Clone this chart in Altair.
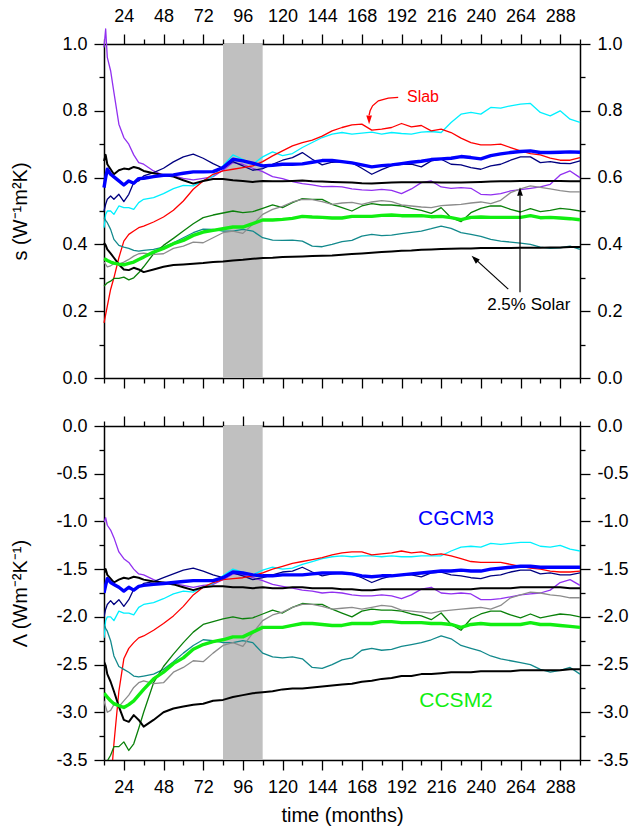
import altair as alt
import pandas as pd

FONT = "Liberation Sans"

months = [12, 13, 14, 16, 18, 21, 24, 27, 30, 33, 36,
          42, 48, 54, 60, 66, 72, 78, 84, 90, 96,
          102, 108, 114, 120, 126, 132, 138, 144, 150, 156,
          162, 168, 174, 180, 186, 192, 198, 204, 210, 216,
          222, 228, 234, 240, 246, 252, 258, 264, 270, 276,
          282, 288, 294, 300]

# ---------------- top panel: s (W^-1 m^2 K) ----------------
s_purple = [0.99, 1.045, 0.96, 0.92, 0.855, 0.76, 0.72, 0.70, 0.668, 0.645, 0.64,
            0.62, 0.607, 0.605, 0.598, 0.593, 0.598, 0.603, 0.622, 0.645, 0.64,
            0.628, 0.618, 0.603, 0.597, 0.588, 0.582, 0.578, 0.573, 0.574, 0.572,
            0.566, 0.563, 0.562, 0.565, 0.562, 0.552, 0.566, 0.585, 0.59, 0.572,
            0.568, 0.57, 0.568, 0.55, 0.548, 0.552, 0.56, 0.564, 0.568, 0.572,
            0.58, 0.608, 0.62, 0.60]
s_navy = [0.50, 0.52, 0.535, 0.545, 0.535, 0.55, 0.528, 0.55, 0.585, 0.59, 0.605,
          0.615, 0.628, 0.647, 0.662, 0.67, 0.658, 0.642, 0.628, 0.648, 0.635,
          0.622, 0.627, 0.64, 0.652, 0.66, 0.675, 0.655, 0.638, 0.646, 0.648,
          0.645, 0.628, 0.61, 0.624, 0.636, 0.64, 0.64, 0.632, 0.65, 0.655,
          0.64, 0.638, 0.63, 0.625, 0.635, 0.64, 0.652, 0.662, 0.662, 0.645,
          0.648, 0.643, 0.642, 0.65]
s_cyan = [0.45, 0.49, 0.50, 0.50, 0.49, 0.515, 0.51, 0.51, 0.505, 0.525, 0.535,
          0.54, 0.552, 0.567, 0.577, 0.575, 0.59, 0.605, 0.635, 0.668, 0.655,
          0.64, 0.662, 0.677, 0.666, 0.672, 0.69, 0.705, 0.72, 0.73, 0.735,
          0.73, 0.733, 0.736, 0.73, 0.735, 0.732, 0.73, 0.736, 0.738, 0.735,
          0.765, 0.79, 0.795, 0.79, 0.81, 0.808, 0.815, 0.82, 0.822, 0.795,
          0.785, 0.80, 0.775, 0.765]
s_red = [0.165, 0.19, 0.215, 0.265, 0.30, 0.36, 0.41, 0.43, 0.44, 0.45, 0.455,
         0.467, 0.482, 0.502, 0.53, 0.565, 0.59, 0.61, 0.62, 0.625, 0.63,
         0.635, 0.648, 0.665, 0.68, 0.695, 0.705, 0.712, 0.724, 0.74, 0.75,
         0.758, 0.76, 0.742, 0.745, 0.75, 0.762, 0.752, 0.756, 0.74, 0.745,
         0.735, 0.718, 0.705, 0.698, 0.698, 0.70, 0.69, 0.68, 0.672, 0.668,
         0.658, 0.652, 0.652, 0.66]
s_teal = [0.48, 0.472, 0.465, 0.445, 0.415, 0.397, 0.392, 0.388, 0.382, 0.38, 0.382,
          0.385, 0.392, 0.405, 0.42, 0.435, 0.446, 0.445, 0.44, 0.44, 0.445,
          0.44, 0.42, 0.413, 0.412, 0.413, 0.41, 0.395, 0.393, 0.40, 0.408,
          0.412, 0.425, 0.43, 0.426, 0.428, 0.432, 0.436, 0.44, 0.447, 0.455,
          0.448, 0.435, 0.43, 0.424, 0.415, 0.41, 0.407, 0.404, 0.40, 0.392,
          0.388, 0.39, 0.395, 0.385]
s_green = [0.275, 0.28, 0.285, 0.29, 0.298, 0.298, 0.302, 0.294, 0.30, 0.315, 0.333,
           0.372, 0.397, 0.418, 0.44, 0.462, 0.48, 0.488, 0.494, 0.50, 0.495,
           0.498, 0.508, 0.518, 0.51, 0.525, 0.537, 0.535, 0.535, 0.52, 0.51,
           0.50, 0.515, 0.522, 0.518, 0.518, 0.515, 0.508, 0.502, 0.493, 0.51,
           0.48, 0.468, 0.495, 0.508, 0.515, 0.515, 0.505, 0.497, 0.507, 0.498,
           0.502, 0.508, 0.505, 0.50]
s_gray = [0.347, 0.34, 0.333, 0.336, 0.342, 0.34, 0.347, 0.355, 0.365, 0.372, 0.374,
          0.37, 0.372, 0.388, 0.395, 0.407, 0.405, 0.42, 0.435, 0.44, 0.433,
          0.46, 0.49, 0.505, 0.514, 0.527, 0.535, 0.534, 0.528, 0.52, 0.524,
          0.526, 0.52, 0.527, 0.531, 0.528, 0.518, 0.515, 0.512, 0.51, 0.516,
          0.518, 0.52, 0.524, 0.527, 0.522, 0.532, 0.555, 0.566, 0.575, 0.571,
          0.566, 0.561, 0.557, 0.557]
s_black_lo = [0.405, 0.398, 0.385, 0.373, 0.36, 0.34, 0.325, 0.323, 0.33, 0.325, 0.317,
              0.325, 0.333, 0.338, 0.34, 0.342, 0.344, 0.347, 0.349, 0.352, 0.354,
              0.357, 0.359, 0.36, 0.362, 0.363, 0.364, 0.365, 0.366, 0.367, 0.369,
              0.371, 0.373, 0.375, 0.377, 0.379, 0.381, 0.382, 0.384, 0.385, 0.386,
              0.387, 0.388, 0.388, 0.389, 0.389, 0.389, 0.389, 0.39, 0.39, 0.39,
              0.391, 0.391, 0.392, 0.392]
s_black_hi = [0.65, 0.668, 0.64, 0.625, 0.61, 0.622, 0.627, 0.625, 0.632, 0.628, 0.62,
              0.613, 0.608, 0.603, 0.592, 0.582, 0.59, 0.596, 0.596, 0.592, 0.59,
              0.587, 0.59, 0.589, 0.589, 0.59, 0.591, 0.589, 0.588, 0.587, 0.586,
              0.585, 0.583, 0.582, 0.584, 0.585, 0.586, 0.586, 0.586, 0.586, 0.585,
              0.585, 0.585, 0.586, 0.587, 0.588, 0.589, 0.589, 0.59, 0.59, 0.59,
              0.59, 0.59, 0.589, 0.589]
s_lime = [0.357, 0.355, 0.352, 0.347, 0.344, 0.341, 0.339, 0.343, 0.347, 0.355, 0.362,
          0.377, 0.388, 0.402, 0.412, 0.427, 0.437, 0.442, 0.447, 0.452, 0.452,
          0.462, 0.473, 0.473, 0.475, 0.478, 0.484, 0.482, 0.481, 0.479, 0.479,
          0.484, 0.484, 0.484, 0.487, 0.488, 0.486, 0.486, 0.486, 0.483, 0.484,
          0.48, 0.474, 0.481, 0.482, 0.481, 0.481, 0.481, 0.481, 0.486, 0.48,
          0.481, 0.479, 0.477, 0.474]
s_blue = [0.57, 0.60, 0.625, 0.61, 0.602, 0.59, 0.578, 0.59, 0.583, 0.597, 0.598,
          0.603, 0.607, 0.608, 0.613, 0.617, 0.617, 0.618, 0.63, 0.655, 0.65,
          0.643, 0.635, 0.637, 0.64, 0.64, 0.641, 0.646, 0.651, 0.651, 0.648,
          0.644, 0.638, 0.632, 0.636, 0.638, 0.642, 0.646, 0.649, 0.654, 0.656,
          0.658, 0.663, 0.66, 0.656, 0.666, 0.671, 0.675, 0.678, 0.68, 0.675,
          0.675, 0.676, 0.677, 0.676]

# ---------------- bottom panel: Lambda (W m^-2 K^-1) ----------------
lam_purple = [-1.01, -0.96, -1.04, -1.09, -1.17, -1.32, -1.39, -1.43, -1.50, -1.55, -1.56,
              -1.61, -1.65, -1.65, -1.67, -1.69, -1.67, -1.66, -1.61, -1.55, -1.56,
              -1.59, -1.62, -1.66, -1.68, -1.70, -1.72, -1.73, -1.75, -1.74, -1.75,
              -1.77, -1.78, -1.78, -1.77, -1.78, -1.81, -1.77, -1.71, -1.69, -1.75,
              -1.76, -1.75, -1.76, -1.82, -1.82, -1.81, -1.79, -1.77, -1.76, -1.75,
              -1.72, -1.64, -1.61, -1.67]
lam_navy = [-2.00, -1.92, -1.87, -1.83, -1.87, -1.82, -1.89, -1.82, -1.71, -1.69, -1.65,
            -1.63, -1.59, -1.55, -1.51, -1.49, -1.52, -1.56, -1.59, -1.54, -1.57,
            -1.61, -1.59, -1.56, -1.53, -1.52, -1.48, -1.53, -1.57, -1.55, -1.54,
            -1.55, -1.59, -1.64, -1.60, -1.57, -1.56, -1.56, -1.58, -1.54, -1.53,
            -1.56, -1.57, -1.59, -1.60, -1.57, -1.56, -1.53, -1.51, -1.51, -1.55,
            -1.54, -1.56, -1.56, -1.54]
lam_cyan = [-2.22, -2.04, -2.00, -2.00, -2.04, -1.94, -1.96, -1.96, -1.98, -1.90, -1.87,
            -1.85, -1.81, -1.76, -1.73, -1.74, -1.69, -1.65, -1.57, -1.50, -1.53,
            -1.56, -1.51, -1.48, -1.50, -1.49, -1.45, -1.42, -1.39, -1.37, -1.36,
            -1.37, -1.36, -1.36, -1.37, -1.36, -1.37, -1.37, -1.36, -1.36, -1.36,
            -1.31, -1.27, -1.26, -1.27, -1.23, -1.24, -1.23, -1.22, -1.22, -1.26,
            -1.27, -1.25, -1.29, -1.31]
lam_red = [-6.06, -5.26, -4.65, -3.77, -3.33, -2.78, -2.44, -2.33, -2.27, -2.22, -2.20,
           -2.14, -2.07, -1.99, -1.89, -1.77, -1.69, -1.64, -1.61, -1.60, -1.59,
           -1.57, -1.54, -1.50, -1.47, -1.44, -1.42, -1.40, -1.38, -1.35, -1.33,
           -1.32, -1.32, -1.35, -1.34, -1.33, -1.31, -1.33, -1.32, -1.35, -1.34,
           -1.36, -1.39, -1.42, -1.43, -1.43, -1.43, -1.45, -1.47, -1.49, -1.50,
           -1.52, -1.53, -1.53, -1.52]
lam_teal = [-2.08, -2.12, -2.15, -2.25, -2.41, -2.52, -2.55, -2.58, -2.62, -2.63, -2.62,
            -2.60, -2.55, -2.47, -2.38, -2.30, -2.24, -2.25, -2.27, -2.27, -2.25,
            -2.27, -2.38, -2.42, -2.43, -2.42, -2.44, -2.53, -2.54, -2.50, -2.45,
            -2.43, -2.35, -2.33, -2.35, -2.34, -2.31, -2.29, -2.27, -2.24, -2.20,
            -2.23, -2.30, -2.33, -2.36, -2.41, -2.44, -2.46, -2.48, -2.50, -2.55,
            -2.58, -2.56, -2.53, -2.60]
lam_green = [-3.64, -3.57, -3.51, -3.45, -3.36, -3.36, -3.31, -3.40, -3.33, -3.17, -3.00,
             -2.69, -2.52, -2.39, -2.27, -2.16, -2.08, -2.05, -2.02, -2.00, -2.02,
             -2.01, -1.97, -1.93, -1.96, -1.90, -1.86, -1.87, -1.87, -1.92, -1.96,
             -2.00, -1.94, -1.92, -1.93, -1.93, -1.94, -1.97, -1.99, -2.03, -1.96,
             -2.08, -2.14, -2.02, -1.97, -1.94, -1.94, -1.98, -2.01, -1.97, -2.01,
             -1.99, -1.97, -1.98, -2.00]
lam_gray = [-2.88, -2.94, -3.00, -2.98, -2.92, -2.94, -2.88, -2.82, -2.74, -2.69, -2.67,
            -2.70, -2.69, -2.58, -2.53, -2.46, -2.47, -2.38, -2.30, -2.27, -2.31,
            -2.17, -2.04, -1.98, -1.95, -1.90, -1.87, -1.87, -1.89, -1.92, -1.91,
            -1.90, -1.92, -1.90, -1.88, -1.89, -1.93, -1.94, -1.95, -1.96, -1.94,
            -1.93, -1.92, -1.91, -1.90, -1.92, -1.88, -1.80, -1.77, -1.74, -1.75,
            -1.77, -1.78, -1.80, -1.80]
lam_black_lo = [-2.47, -2.51, -2.60, -2.68, -2.78, -2.94, -3.08, -3.10, -3.03, -3.08, -3.15,
                -3.08, -3.00, -2.96, -2.94, -2.92, -2.91, -2.88, -2.87, -2.84, -2.82,
                -2.80, -2.79, -2.78, -2.76, -2.75, -2.75, -2.74, -2.73, -2.72, -2.71,
                -2.70, -2.68, -2.67, -2.65, -2.64, -2.62, -2.62, -2.60, -2.60, -2.59,
                -2.58, -2.58, -2.58, -2.57, -2.57, -2.57, -2.57, -2.56, -2.56, -2.56,
                -2.56, -2.56, -2.55, -2.55]
lam_black_hi = [-1.54, -1.50, -1.56, -1.60, -1.64, -1.61, -1.59, -1.60, -1.58, -1.59, -1.61,
                -1.63, -1.64, -1.66, -1.69, -1.72, -1.69, -1.68, -1.68, -1.69, -1.69,
                -1.70, -1.69, -1.70, -1.70, -1.69, -1.69, -1.70, -1.70, -1.70, -1.71,
                -1.71, -1.72, -1.72, -1.71, -1.71, -1.71, -1.71, -1.71, -1.71, -1.71,
                -1.71, -1.71, -1.71, -1.70, -1.70, -1.70, -1.70, -1.69, -1.69, -1.69,
                -1.69, -1.69, -1.70, -1.70]
lam_lime = [-2.80, -2.82, -2.84, -2.88, -2.91, -2.93, -2.95, -2.92, -2.88, -2.82, -2.76,
            -2.65, -2.58, -2.49, -2.43, -2.34, -2.29, -2.26, -2.24, -2.21, -2.21,
            -2.16, -2.11, -2.11, -2.11, -2.09, -2.07, -2.07, -2.08, -2.09, -2.09,
            -2.07, -2.07, -2.07, -2.05, -2.05, -2.06, -2.06, -2.06, -2.07, -2.07,
            -2.08, -2.11, -2.08, -2.07, -2.08, -2.08, -2.08, -2.08, -2.06, -2.08,
            -2.08, -2.09, -2.10, -2.11]
lam_blue = [-1.75, -1.67, -1.60, -1.64, -1.66, -1.69, -1.73, -1.69, -1.72, -1.68, -1.67,
            -1.66, -1.65, -1.64, -1.63, -1.62, -1.62, -1.62, -1.59, -1.53, -1.54,
            -1.56, -1.57, -1.57, -1.56, -1.56, -1.56, -1.55, -1.54, -1.54, -1.54,
            -1.55, -1.57, -1.58, -1.57, -1.57, -1.56, -1.55, -1.54, -1.53, -1.52,
            -1.52, -1.51, -1.52, -1.52, -1.50, -1.49, -1.48, -1.47, -1.47, -1.48,
            -1.48, -1.48, -1.48, -1.48]

# series: name, top values, bottom values, colour, line width (drawing order)
series = [
    ("purple", s_purple, lam_purple, "#9130f0", 1.3),
    ("navy", s_navy, lam_navy, "#000080", 1.3),
    ("cyan", s_cyan, lam_cyan, "#00f0ff", 1.3),
    ("red", s_red, lam_red, "#ff0000", 1.3),
    ("teal", s_teal, lam_teal, "#12898c", 1.3),
    ("green", s_green, lam_green, "#0a800a", 1.3),
    ("gray", s_gray, lam_gray, "#8c8c8c", 1.3),
    ("black_lo", s_black_lo, lam_black_lo, "#000000", 2.0),
    ("black_hi", s_black_hi, lam_black_hi, "#000000", 2.0),
    ("lime", s_lime, lam_lime, "#11ee11", 3.4),
    ("blue", s_blue, lam_blue, "#0000ff", 3.4),
]

shade_months = [84, 108]
x_domain = [12, 300]
x_ticks = [12, 24, 36, 48, 60, 72, 84, 96, 108, 120, 132, 144, 156, 168, 180,
           192, 204, 216, 228, 240, 252, 264, 276, 288, 300]
top_domain = [0.0, 1.0]
top_ticks = [0.0, 0.1, 0.2, 0.3, 0.4, 0.5, 0.6, 0.7, 0.8, 0.9, 1.0]
bot_domain = [-3.5, 0.0]
bot_ticks = [-3.5, -3.25, -3.0, -2.75, -2.5, -2.25, -2.0, -1.75, -1.5, -1.25,
             -1.0, -0.75, -0.5, -0.25, 0.0]

# annotations (data units)
slab_text = {"x": [205], "y": [0.841], "t": ["Slab"]}
slab_arrow = {"x": [190, 184, 178, 174.5, 173, 172.4], "y": [0.840, 0.838, 0.830, 0.815, 0.800, 0.787]}
slab_head = {"x": [172.4], "y": [0.760], "a": [180]}
solar_text = {"x": [269], "y": [0.218], "t": ["2.5% Solar"]}
solar_arrow1 = {"x": [256.6, 238.0], "y": [0.266, 0.350]}
solar_arrow2 = {"x": [263.7, 263.7], "y": [0.257, 0.545]}
solar_heads = {"x": [234.4, 263.7], "y": [0.366, 0.571], "a": [313, 0]}
cgcm_text = {"x": [225], "y": [-0.978], "t": ["CGCM3"]}
ccsm_text = {"x": [225], "y": [-2.886], "t": ["CCSM2"]}

ARROW = "M0,0L0.6,1.8L-0.6,1.8Z"

W, H = 476, 334


def long_df(idx):
    rows = []
    for name, top, bot, col, wid in series:
        vals = top if idx == 0 else bot
        for m, v in zip(months, vals):
            rows.append({"month": m, "value": v, "series": name})
    return pd.DataFrame(rows)


def x_axis(orient, labels, title=None):
    kw = dict(orient=orient, values=x_ticks,
              tickSize={"condition": {"test": "datum.value % 24 === 0", "value": 10}, "value": 5},
              labels=labels, title=title)
    if labels:
        kw["labelExpr"] = "datum.value % 24 === 0 ? '' + datum.value : ''"
        kw["labelPadding"] = 8 if orient == "bottom" else 9
    if title:
        kw["titlePadding"] = 9
        kw["titleFontWeight"] = "normal"
        kw["titleFont"] = FONT
        kw["titleFontSize"] = 20
    return alt.Axis(**kw)


def y_axis(orient, ticks, test, title=None):
    kw = dict(orient=orient, values=ticks,
              tickSize={"condition": {"test": test, "value": 10}, "value": 5},
              labelExpr="(" + test + ") ? (datum.value < 0 ? '-' : '') + format(abs(datum.value), '.1f') : ''",
              labelPadding=7, title=title)
    if title:
        kw.update(titleX=-84, titleY=H / 2, titleAngle=270, titleAlign="center",
                  titleBaseline="middle", titleFontSize=20, titleFontWeight="normal",
                  titleFont=FONT)
    return alt.Axis(**kw)


def text_layer(d, color, size, xs, ys):
    return alt.Chart(pd.DataFrame(d)).mark_text(color=color, fontSize=size, font=FONT,
                                                align="center", baseline="middle").encode(
        x=alt.X("x:Q", scale=xs, axis=None), y=alt.Y("y:Q", scale=ys, axis=None), text="t:N")


def line_layer(d, color, width, xs, ys):
    return alt.Chart(pd.DataFrame(d)).mark_line(color=color, strokeWidth=width).encode(
        x=alt.X("x:Q", scale=xs, axis=None), y=alt.Y("y:Q", scale=ys, axis=None))


def head_layer(d, color, xs, ys):
    return alt.Chart(pd.DataFrame(d)).mark_point(shape=ARROW, filled=True, color=color,
                                                 opacity=1, size=90, strokeWidth=0).encode(
        x=alt.X("x:Q", scale=xs, axis=None), y=alt.Y("y:Q", scale=ys, axis=None),
        angle=alt.Angle("a:Q", scale=None))


def panel(idx):
    ydom = top_domain if idx == 0 else bot_domain
    yticks = top_ticks if idx == 0 else bot_ticks
    test = ("round(datum.value * 10) % 2 === 0" if idx == 0
            else "round(datum.value * 4) % 2 === 0")
    ytitle = "s (W\u207b\u00b9m\u00b2K)" if idx == 0 else "\u039b (Wm\u207b\u00b2K\u207b\u00b9)"
    xs = alt.Scale(domain=x_domain, nice=False, zero=False)
    ys = alt.Scale(domain=ydom, nice=False, zero=False)
    band_df = pd.DataFrame({"x0": [shade_months[0]], "x1": [shade_months[1]],
                            "y0": [ydom[0]], "y1": [ydom[1]]})
    layers = [alt.Chart(band_df).mark_rect(color="#c0c0c0").encode(
        x=alt.X("x0:Q", scale=xs, axis=None), x2="x1:Q",
        y=alt.Y("y0:Q", scale=ys, axis=None), y2="y1:Q")]
    df = long_df(idx)
    for name, top, bot, col, wid in series:
        layers.append(alt.Chart(df).transform_filter(alt.datum.series == name).mark_line(
            color=col, strokeWidth=wid, clip=(idx == 1), strokeJoin="round").encode(
            x=alt.X("month:Q", scale=xs, axis=None),
            y=alt.Y("value:Q", scale=ys, axis=None)))
    if idx == 0:
        layers.append(line_layer(slab_arrow, "#ff0000", 1.3, xs, ys))
        layers.append(head_layer(slab_head, "#ff0000", xs, ys))
        layers.append(text_layer(slab_text, "#ff0000", 16, xs, ys))
        layers.append(line_layer(solar_arrow1, "#000000", 1.2, xs, ys))
        layers.append(line_layer(solar_arrow2, "#000000", 1.2, xs, ys))
        layers.append(head_layer(solar_heads, "#000000", xs, ys))
        layers.append(text_layer(solar_text, "#000000", 17, xs, ys))
    else:
        layers.append(text_layer(cgcm_text, "#0000ff", 21, xs, ys))
        layers.append(text_layer(ccsm_text, "#11ee11", 21, xs, ys))
    # axes on all four sides
    layers.append(alt.Chart(band_df).mark_point(opacity=0).encode(
        x=alt.X("x0:Q", scale=xs,
                axis=x_axis("bottom", idx == 1, "time (months)" if idx == 1 else None)),
        y=alt.Y("y0:Q", scale=ys, axis=y_axis("left", yticks, test, ytitle))))
    layers.append(alt.Chart(band_df).mark_point(opacity=0).encode(
        x=alt.X("x0:Q", scale=xs, axis=x_axis("top", idx == 0)),
        y=alt.Y("y0:Q", scale=ys, axis=y_axis("right", yticks, test))))
    return alt.layer(*layers).resolve_axis(x="independent", y="independent").properties(
        width=W, height=H)


chart = alt.vconcat(panel(0), panel(1), spacing=26).properties(
    padding={"left": 10, "top": 7, "right": 5, "bottom": 5}
).configure_view(strokeWidth=0).configure_axis(
    labelFont=FONT, labelFontSize=18, labelColor="#000000", labelFontWeight="normal",
    titleFont=FONT, titleFontSize=20, titleFontWeight="normal", titleColor="#000000",
    domainColor="#000000", domainWidth=1.5, tickColor="#000000", tickWidth=1.3,
    grid=False, labelFlush=False, labelOverlap=False
)

chart.save("out.html", embed_options={"renderer": "svg", "actions": False})
